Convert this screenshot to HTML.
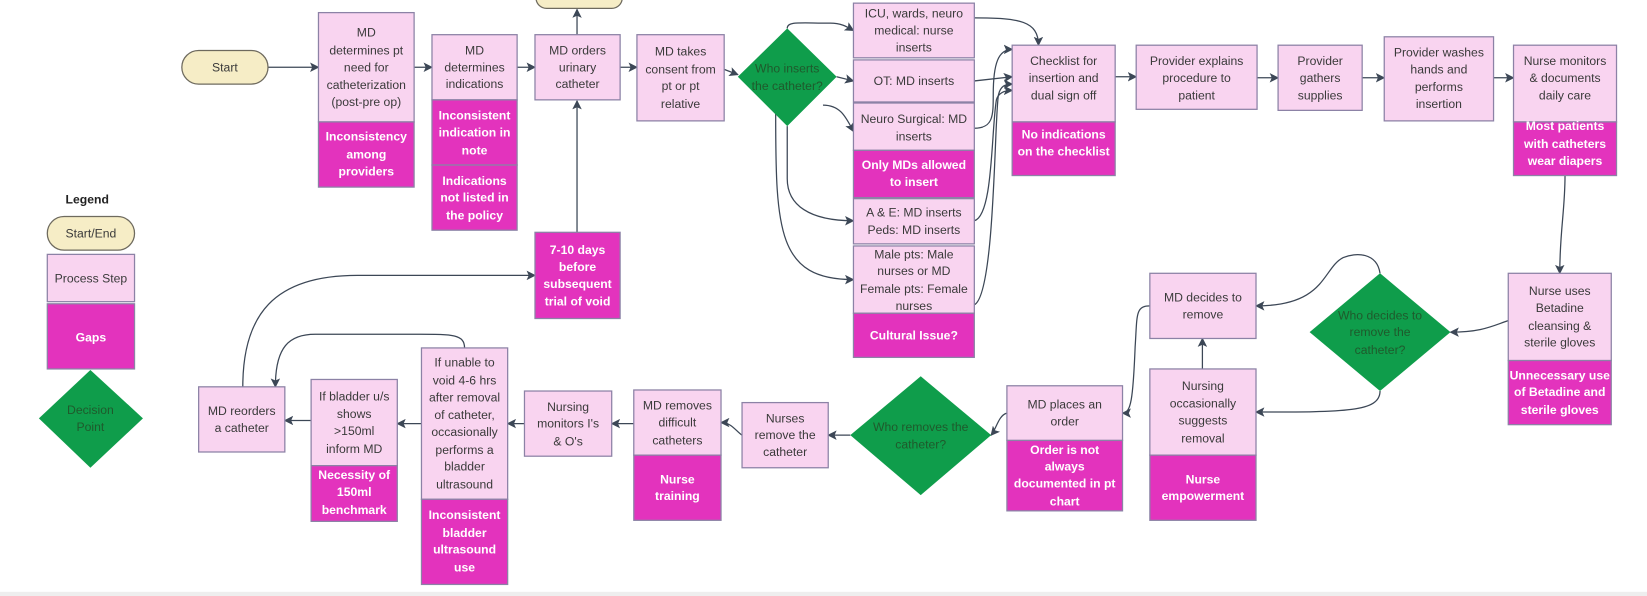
<!DOCTYPE html>
<html><head><meta charset="utf-8"><style>
html,body{margin:0;padding:0;background:#fff;}
svg{display:block}
text{font-family:"Liberation Sans",sans-serif;font-size:11.6px;}
.p{fill:#f9d4f0;stroke:#8c82a6;stroke-width:1.2}
.g{fill:#e333bd;stroke:#8c82a6;stroke-width:1.2}
.d{fill:#0f9d4b}
.c{fill:#f6edc6;stroke:#6e6a5e;stroke-width:1.2}
.tp{fill:#3a3a3a;text-anchor:middle;dominant-baseline:central}
.tg{fill:#fff;font-weight:bold;text-anchor:middle;dominant-baseline:central}
.td{fill:#1f5a2c;text-anchor:middle;dominant-baseline:central}
.l{fill:none;stroke:#3c4756;stroke-width:1.2;marker-end:url(#a)}
.n{fill:none;stroke:#3c4756;stroke-width:1.2}
</style></head><body>
<svg width="1647" height="596" viewBox="0 0 1567 567" preserveAspectRatio="none" xmlns="http://www.w3.org/2000/svg">
<defs><marker id="a" markerWidth="9" markerHeight="9" refX="8" refY="4.5" orient="auto" markerUnits="userSpaceOnUse"><path d="M0,0 L9,4.5 L0,9 L2,4.5 z" fill="#3c4756"/></marker></defs>
<rect x="0" y="563" width="1567" height="4" fill="#eeeeee"/>

<!-- connectors -->
<path class="l" d="M255,64 L303,64"/>
<path class="l" d="M394,64 L411,64"/>
<path class="l" d="M492,64 L509,64"/>
<path class="l" d="M590,64 L606,64"/>
<path class="l" d="M689,66 L702,71"/>
<path class="l" d="M549,33 L549,9"/>
<path class="l" d="M549,221 L549,96"/>
<path class="l" d="M749,27 C749,20 760,22 790,22 C800,22 805,25 812,29"/>
<path class="l" d="M796,73 L812,77"/>
<path class="l" d="M783,100 C800,100 805,112 812,125"/>
<path class="l" d="M749,120 L749,170 C749,195 770,210 812,210"/>
<path class="l" d="M738,108 C738,220 740,266 812,266"/>
<path class="l" d="M927,17 C970,17 988,20 988,43"/>
<path class="l" d="M927,77 L963,73"/>
<path class="l" d="M927,122 C945,122 945,110 945,90 C945,60 950,47 963,47"/>
<path class="l" d="M927,210 C945,205 943,125 948,95 C950,88 956,86 963,86"/>
<path class="l" d="M927,290 C947,280 946,110 950,90 C952,82 956,80 963,80"/>
<path class="l" d="M1061,73 L1081,73"/>
<path class="l" d="M1196,74 L1216,74"/>
<path class="l" d="M1296,74 L1317,74"/>
<path class="l" d="M1421,74 L1440,74"/>
<path class="l" d="M1489,167 C1489,200 1484,220 1484,260"/>
<path class="l" d="M1435,305 C1420,310 1410,316 1380,316"/>
<path class="l" d="M1313,260 C1310,240 1290,240 1278,245 C1258,255 1262,291 1195,291"/>
<path class="l" d="M1313,372 C1313,392 1280,392 1195,392"/>
<path class="l" d="M1144,351 L1144,322"/>
<path class="l" d="M1094,291 C1080,291 1082,300 1080,330 C1078,380 1076,393 1068,393"/>
<path class="l" d="M958,393 C950,395 948,408 943,414"/>
<path class="l" d="M809,414 L788,414"/>
<path class="l" d="M706,414 C700,410 696,402 686,402"/>
<path class="l" d="M603,403 L582,403"/>
<path class="l" d="M499,403 L483,403"/>
<path class="l" d="M401,403 L378,403"/>
<path class="l" d="M296,400 L271,400"/>
<path class="l" d="M442,331 C442,318 430,318 400,318 L300,318 C275,318 262,330 262,368"/>
<path class="l" d="M231,368 C231,300 260,262 340,262 L509,262"/>

<!-- legend -->
<text x="83" y="190" style="font-weight:bold;fill:#222;text-anchor:middle;dominant-baseline:central">Legend</text>
<rect class="c" x="45" y="206" width="83" height="32" rx="16"/><text class="tp" x="86.5" y="222">Start/End</text>
<rect class="p" x="45" y="242" width="83" height="45"/><text class="tp" x="86.5" y="265">Process Step</text>
<rect class="g" x="45" y="289" width="83" height="62"/><text class="tg" x="86.5" y="321">Gaps</text>
<polygon class="d" points="86,352 136,398 86,445 37,398"/>
<text class="td" x="86" y="390">Decision</text><text class="td" x="86" y="406">Point</text>

<!-- top row -->
<rect class="c" x="510" y="-12" width="82" height="20" rx="10"/>
<rect class="c" x="173" y="48" width="82" height="32" rx="16"/><text class="tp" x="214" y="64">Start</text>

<rect class="p" x="303" y="12" width="91" height="104"/>
<text class="tp" x="348.5"><tspan x="348.5" y="31">MD</tspan><tspan x="348.5" y="48">determines pt</tspan><tspan x="348.5" y="64">need for</tspan><tspan x="348.5" y="81">catheterization</tspan><tspan x="348.5" y="97">(post-pre op)</tspan></text>
<rect class="g" x="303" y="116" width="91" height="62"/>
<text class="tg"><tspan x="348.5" y="130">Inconsistency</tspan><tspan x="348.5" y="147">among</tspan><tspan x="348.5" y="163">providers</tspan></text>

<rect class="p" x="411" y="33" width="81" height="62"/>
<text class="tp"><tspan x="451.5" y="48">MD</tspan><tspan x="451.5" y="64">determines</tspan><tspan x="451.5" y="80">indications</tspan></text>
<rect class="g" x="411" y="95" width="81" height="62"/>
<text class="tg"><tspan x="451.5" y="110">Inconsistent</tspan><tspan x="451.5" y="126">indication in</tspan><tspan x="451.5" y="143">note</tspan></text>
<rect class="g" x="411" y="157" width="81" height="62"/>
<text class="tg"><tspan x="451.5" y="172">Indications</tspan><tspan x="451.5" y="188">not listed in</tspan><tspan x="451.5" y="205">the policy</tspan></text>

<rect class="p" x="509" y="33" width="81" height="62"/>
<text class="tp"><tspan x="549.5" y="48">MD orders</tspan><tspan x="549.5" y="64">urinary</tspan><tspan x="549.5" y="80">catheter</tspan></text>
<rect class="g" x="509" y="221" width="81" height="82"/>
<text class="tg"><tspan x="549.5" y="238">7-10 days</tspan><tspan x="549.5" y="254">before</tspan><tspan x="549.5" y="270">subsequent</tspan><tspan x="549.5" y="287">trial of void</tspan></text>

<rect class="p" x="606" y="33" width="83" height="82"/>
<text class="tp"><tspan x="647.5" y="49">MD takes</tspan><tspan x="647.5" y="66">consent from</tspan><tspan x="647.5" y="82">pt or pt</tspan><tspan x="647.5" y="99">relative</tspan></text>

<polygon class="d" points="749,27 796,73 749,120 702,73"/>
<text class="td"><tspan x="749" y="65">Who inserts</tspan><tspan x="749" y="82">the catheter?</tspan></text>

<rect class="p" x="812" y="3" width="115" height="52"/>
<text class="tp"><tspan x="869.5" y="13">ICU, wards, neuro</tspan><tspan x="869.5" y="29">medical: nurse</tspan><tspan x="869.5" y="45">inserts</tspan></text>
<rect class="p" x="812" y="57" width="115" height="40"/><text class="tp" x="869.5" y="77">OT: MD inserts</text>
<rect class="p" x="812" y="98" width="115" height="45"/>
<text class="tp"><tspan x="869.5" y="113">Neuro Surgical: MD</tspan><tspan x="869.5" y="130">inserts</tspan></text>
<rect class="g" x="812" y="143" width="115" height="45"/>
<text class="tg"><tspan x="869.5" y="157">Only MDs allowed</tspan><tspan x="869.5" y="173">to insert</tspan></text>
<rect class="p" x="812" y="189" width="115" height="43"/>
<text class="tp"><tspan x="869.5" y="202">A &amp; E: MD inserts</tspan><tspan x="869.5" y="219">Peds: MD inserts</tspan></text>
<rect class="p" x="812" y="234" width="115" height="64"/>
<text class="tp"><tspan x="869.5" y="242">Male pts: Male</tspan><tspan x="869.5" y="258">nurses or MD</tspan><tspan x="869.5" y="275">Female pts: Female</tspan><tspan x="869.5" y="291">nurses</tspan></text>
<rect class="g" x="812" y="298" width="115" height="42"/><text class="tg" x="869.5" y="319">Cultural Issue?</text>

<rect class="p" x="963" y="43" width="98" height="73"/>
<text class="tp"><tspan x="1012" y="58">Checklist for</tspan><tspan x="1012" y="74">insertion and</tspan><tspan x="1012" y="91">dual sign off</tspan></text>
<rect class="g" x="963" y="116" width="98" height="51"/>
<text class="tg"><tspan x="1012" y="128">No indications</tspan><tspan x="1012" y="144">on the checklist</tspan></text>

<rect class="p" x="1081" y="43" width="115" height="61"/>
<text class="tp"><tspan x="1138.5" y="58">Provider explains</tspan><tspan x="1138.5" y="74">procedure to</tspan><tspan x="1138.5" y="91">patient</tspan></text>
<rect class="p" x="1216" y="43" width="80" height="62"/>
<text class="tp"><tspan x="1256" y="58">Provider</tspan><tspan x="1256" y="74">gathers</tspan><tspan x="1256" y="91">supplies</tspan></text>
<rect class="p" x="1317" y="35" width="104" height="80"/>
<text class="tp"><tspan x="1369" y="50">Provider washes</tspan><tspan x="1369" y="66">hands and</tspan><tspan x="1369" y="83">performs</tspan><tspan x="1369" y="99">insertion</tspan></text>
<rect class="p" x="1440" y="43" width="98" height="73"/>
<text class="tp"><tspan x="1489" y="58">Nurse monitors</tspan><tspan x="1489" y="74">&amp; documents</tspan><tspan x="1489" y="91">daily care</tspan></text>
<rect class="g" x="1440" y="116" width="98" height="51"/>
<text class="tg"><tspan x="1489" y="120">Most patients</tspan><tspan x="1489" y="137">with catheters</tspan><tspan x="1489" y="153">wear diapers</tspan></text>

<!-- bottom row -->
<rect class="p" x="1435" y="260" width="98" height="83"/>
<text class="tp"><tspan x="1484" y="277">Nurse uses</tspan><tspan x="1484" y="293">Betadine</tspan><tspan x="1484" y="310">cleansing &amp;</tspan><tspan x="1484" y="326">sterile gloves</tspan></text>
<rect class="g" x="1435" y="343" width="98" height="61"/>
<text class="tg"><tspan x="1484" y="357">Unnecessary use</tspan><tspan x="1484" y="373">of Betadine and</tspan><tspan x="1484" y="390">sterile gloves</tspan></text>

<polygon class="d" points="1313,260 1380,316 1313,372 1246,316"/>
<text class="td"><tspan x="1313" y="300">Who decides to</tspan><tspan x="1313" y="316">remove the</tspan><tspan x="1313" y="333">catheter?</tspan></text>

<rect class="p" x="1094" y="260" width="101" height="62"/>
<text class="tp"><tspan x="1144.5" y="283">MD decides to</tspan><tspan x="1144.5" y="299">remove</tspan></text>
<rect class="p" x="1094" y="351" width="101" height="82"/>
<text class="tp"><tspan x="1144.5" y="367">Nursing</tspan><tspan x="1144.5" y="384">occasionally</tspan><tspan x="1144.5" y="400">suggests</tspan><tspan x="1144.5" y="417">removal</tspan></text>
<rect class="g" x="1094" y="433" width="101" height="62"/>
<text class="tg"><tspan x="1144.5" y="456">Nurse</tspan><tspan x="1144.5" y="472">empowerment</tspan></text>

<rect class="p" x="958" y="367" width="110" height="52"/>
<text class="tp"><tspan x="1013" y="385">MD places an</tspan><tspan x="1013" y="401">order</tspan></text>
<rect class="g" x="958" y="419" width="110" height="67"/>
<text class="tg"><tspan x="1013" y="428">Order is not</tspan><tspan x="1013" y="444">always</tspan><tspan x="1013" y="460">documented in pt</tspan><tspan x="1013" y="477">chart</tspan></text>

<polygon class="d" points="876,358 943,414 876,471 809,414"/>
<text class="td"><tspan x="876" y="406">Who removes the</tspan><tspan x="876" y="423">catheter?</tspan></text>

<rect class="p" x="706" y="383" width="82" height="62"/>
<text class="tp"><tspan x="747" y="398">Nurses</tspan><tspan x="747" y="414">remove the</tspan><tspan x="747" y="430">catheter</tspan></text>
<rect class="p" x="603" y="371" width="83" height="62"/>
<text class="tp"><tspan x="644.5" y="386">MD removes</tspan><tspan x="644.5" y="402">difficult</tspan><tspan x="644.5" y="419">catheters</tspan></text>
<rect class="g" x="603" y="433" width="83" height="62"/>
<text class="tg"><tspan x="644.5" y="456">Nurse</tspan><tspan x="644.5" y="472">training</tspan></text>
<rect class="p" x="499" y="372" width="83" height="62"/>
<text class="tp"><tspan x="540.5" y="387">Nursing</tspan><tspan x="540.5" y="403">monitors I's</tspan><tspan x="540.5" y="420">&amp; O's</tspan></text>

<rect class="p" x="401" y="331" width="82" height="144"/>
<text class="tp"><tspan x="442" y="345">If unable to</tspan><tspan x="442" y="362">void 4-6 hrs</tspan><tspan x="442" y="378">after removal</tspan><tspan x="442" y="395">of catheter,</tspan><tspan x="442" y="411">occasionally</tspan><tspan x="442" y="428">performs a</tspan><tspan x="442" y="444">bladder</tspan><tspan x="442" y="461">ultrasound</tspan></text>
<rect class="g" x="401" y="475" width="82" height="81"/>
<text class="tg"><tspan x="442" y="490">Inconsistent</tspan><tspan x="442" y="507">bladder</tspan><tspan x="442" y="523">ultrasound</tspan><tspan x="442" y="540">use</tspan></text>

<rect class="p" x="296" y="361" width="82" height="82"/>
<text class="tp"><tspan x="337" y="377">If bladder u/s</tspan><tspan x="337" y="394">shows</tspan><tspan x="337" y="410">&gt;150ml</tspan><tspan x="337" y="427">inform MD</tspan></text>
<rect class="g" x="296" y="443" width="82" height="53"/>
<text class="tg"><tspan x="337" y="452">Necessity of</tspan><tspan x="337" y="468">150ml</tspan><tspan x="337" y="485">benchmark</tspan></text>

<rect class="p" x="189" y="368" width="82" height="62"/>
<text class="tp"><tspan x="230" y="391">MD reorders</tspan><tspan x="230" y="407">a catheter</tspan></text>
</svg>
</body></html>
